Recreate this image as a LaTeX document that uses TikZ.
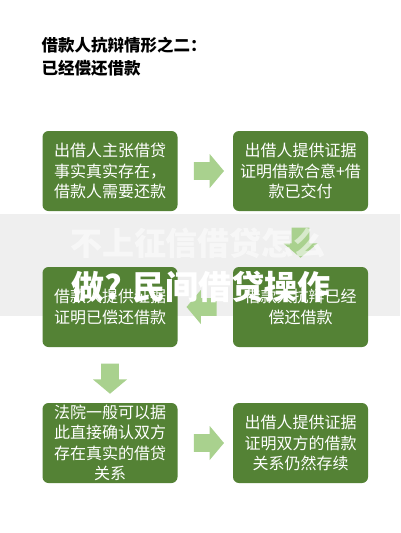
\documentclass[tikz,border=0pt]{standalone}
\usepackage{fontspec}
\usepackage{tikz}
\usetikzlibrary{shapes.arrows, positioning, calc}
\newfontfamily\cjk{Noto Sans CJK SC}
\definecolor{boxgreen}{RGB}{84, 130, 53}
\definecolor{arrowgreen}{RGB}{169, 209, 142}
\definecolor{bandgray}{RGB}{239, 239, 239}

\begin{document}
\begin{tikzpicture}[x=1pt, y=-1pt,
    stage/.style={fill=boxgreen, rounded corners=6pt, minimum width=135pt,
                  minimum height=80pt, inner sep=0pt, align=center, text=white,
                  font=\cjk\fontsize{16}{20.5}\selectfont},
    flow/.style={single arrow, fill=arrowgreen, draw=none, inner sep=8.5pt,
                 minimum height=30pt, minimum width=34pt,
                 single arrow head extend=8pt, single arrow tip angle=100},
    mark text/.style={text=white, font=\cjk\bfseries\fontsize{32}{32}\selectfont}
]
    \fill[white] (0,0) rectangle (400,533);
    \useasboundingbox (0,0) rectangle (400,533);

    % Band behind the middle row
    \fill[bandgray] (0,214) rectangle (400,316);

    % Title
    \node[anchor=west, align=left, font=\cjk\bfseries\fontsize{16.5}{23}\selectfont]
        (title) at (38,56.5) {借款人抗辩情形之二：\\已经偿还借款};

    % Lender claims
    \node[stage] (claim) at (110,171) {出借人主张借贷\\事实真实存在，\\借款人需要还款};

    % Lender proof
    \node[stage] (proof) at (300.5,171) {出借人提供证据\\证明借款合意+借\\款已交付};

    % Borrower defence
    \node[stage] (defence) at (300.5,307) {借款人抗辩已经\\偿还借款};

    % Borrower proof
    \node[stage] (repaid) at (110,307) {借款人提供证据\\证明已偿还借款};

    % Court
    \node[stage] (court) at (110,443) {法院一般可以据\\此直接确认双方\\存在真实的借贷\\关系};

    % Lender rebuttal
    \node[stage] (ongoing) at (300.5,443) {出借人提供证据\\证明双方的借款\\关系仍然存续};

    % Arrows
    \node[flow] (a1) at ($(claim.east)!0.5!(proof.west)$) {};
    \node[flow, shape border rotate=270] (a2) at ($(proof.south)!0.5!(defence.north)$) {};
    \node[flow, shape border rotate=180] (a3) at ($(defence.west)!0.5!(repaid.east)$) {};
    \node[flow, shape border rotate=270] (a4) at ($(repaid.south)!0.5!(court.north)$) {};
    \node[flow] (a5) at ($(court.east)!0.5!(ongoing.west)$) {};

    % Overlay text
    \node[mark text, opacity=0.55] (marka) at (198,243) {不上征信借贷怎么};
    \node[mark text, font=\cjk\bfseries\fontsize{33}{33}\selectfont] (markb) at (201,287) {做? 民间借贷操作};
\end{tikzpicture}
\end{document}
